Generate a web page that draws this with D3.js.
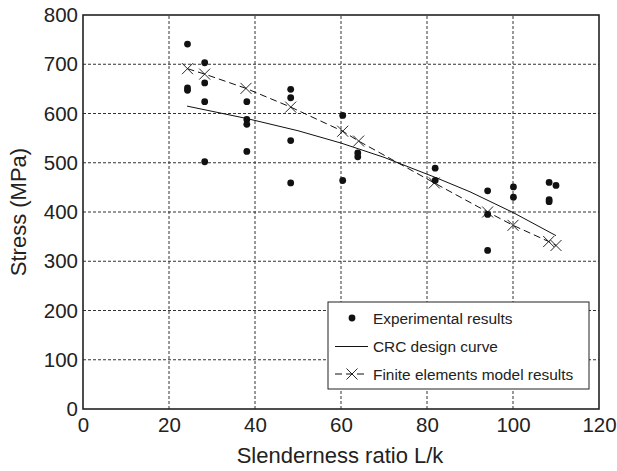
<!DOCTYPE html>
<html>
<head>
<meta charset="utf-8">
<script src="https://cdn.jsdelivr.net/npm/d3@7"></script>
<style>
  body { margin: 0; background: #fff; }
  text { font-family: "Liberation Sans", Arial, sans-serif; fill: #222; }
</style>
</head>
<body>
<div id="chart"></div>
<script>
// experimental results (L/k, stress MPa)
var expX = [24.3, 24.3, 24.3, 28.3, 28.3, 28.3, 28.3, 38.1, 38.1, 38.1, 38.1, 48.3, 48.3, 48.3, 48.3,
            60.4, 60.4, 63.9, 63.9, 81.9, 81.9, 94.1, 94.1, 94.1, 100.1, 100.1, 108.4, 108.4, 108.4, 110];
var expY = [741, 652, 647, 703, 662, 624, 502, 624, 588, 578, 523, 649, 632, 545, 459,
            596, 464, 520, 512, 489, 464, 443, 395, 322, 451, 430, 460, 425, 421, 454];

// CRC design curve
var crcX = [24.2, 38, 50, 60, 70, 82, 90, 100, 110];
var crcY = [615, 590, 565, 540, 511, 470, 441, 399, 352];

// finite elements model results
var feX = [24.3, 28.3, 37.9, 48.3, 60.4, 64.1, 81.7, 94.1, 100, 108.3, 110];
var feY = [691, 680, 651, 613, 564, 544, 459, 400, 373, 340, 332];

var xTicks = [0, 20, 40, 60, 80, 100, 120];
var yTicks = [0, 100, 200, 300, 400, 500, 600, 700, 800];

var legendLabels = ["Experimental results", "CRC design curve", "Finite elements model results"];

var width = 617, height = 471;
var margin = {left: 83, right: 18, top: 15, bottom: 62};

var svg = d3.select("#chart").append("svg")
    .attr("width", width)
    .attr("height", height);

var x = d3.scaleLinear().domain([0, 120]).range([margin.left, width - margin.right]);
var y = d3.scaleLinear().domain([0, 800]).range([height - margin.bottom, margin.top]);

// grid
svg.append("g").selectAll("line")
    .data(xTicks.slice(1, -1))
    .enter().append("line")
    .attr("x1", d => x(d)).attr("x2", d => x(d))
    .attr("y1", y(0)).attr("y2", y(800))
    .attr("stroke", "#333").attr("stroke-width", 1)
    .attr("stroke-dasharray", "3,2");

svg.append("g").selectAll("line")
    .data(yTicks.slice(1, -1))
    .enter().append("line")
    .attr("y1", d => y(d)).attr("y2", d => y(d))
    .attr("x1", x(0)).attr("x2", x(120))
    .attr("stroke", "#333").attr("stroke-width", 1)
    .attr("stroke-dasharray", "3,2");

// frame
svg.append("rect")
    .attr("x", x(0)).attr("y", y(800))
    .attr("width", x(120) - x(0)).attr("height", y(0) - y(800))
    .attr("fill", "none").attr("stroke", "#222").attr("stroke-width", 1.6);

// axes
var xAxis = svg.append("g")
    .attr("transform", "translate(0," + y(0) + ")")
    .call(d3.axisBottom(x).tickValues(xTicks).tickSize(0).tickPadding(8));
var yAxis = svg.append("g")
    .attr("transform", "translate(" + x(0) + ",0)")
    .call(d3.axisLeft(y).tickValues(yTicks).tickSize(0).tickPadding(5));
[xAxis, yAxis].forEach(function(a) {
    a.select(".domain").remove();
    a.selectAll("text").attr("font-size", 20.5).attr("fill", "#222")
        .attr("font-family", "Liberation Sans, Arial, sans-serif");
});

svg.append("text")
    .attr("x", (x(0) + x(120)) / 2 - 1)
    .attr("y", 463)
    .attr("text-anchor", "middle")
    .attr("font-size", 22)
    .text("Slenderness ratio L/k");

svg.append("text")
    .attr("transform", "translate(26," + (y(0) + y(800)) / 2 + ") rotate(-90)")
    .attr("text-anchor", "middle")
    .attr("font-size", 22)
    .text("Stress (MPa)");

// CRC curve
var crc = crcX.map((d, i) => [d, crcY[i]]);
var fe = feX.map((d, i) => [d, feY[i]]);
var line = d3.line().x(d => x(d[0])).y(d => y(d[1]));

svg.append("path")
    .datum(crc)
    .attr("d", line)
    .attr("fill", "none").attr("stroke", "#111").attr("stroke-width", 1);

svg.append("path")
    .datum(fe)
    .attr("d", line)
    .attr("fill", "none").attr("stroke", "#111").attr("stroke-width", 1)
    .attr("stroke-dasharray", "7,4");

var crossPath = function(cx, cy, s) {
    return "M" + (cx - s) + "," + (cy - s) + "L" + (cx + s) + "," + (cy + s) +
        "M" + (cx - s) + "," + (cy + s) + "L" + (cx + s) + "," + (cy - s);
};

svg.append("g").selectAll("path")
    .data(fe)
    .enter().append("path")
    .attr("d", d => crossPath(x(d[0]), y(d[1]), 5.5))
    .attr("stroke", "#111").attr("stroke-width", 0.9).attr("fill", "none");

svg.append("g").selectAll("circle")
    .data(expX.map((d, i) => [d, expY[i]]))
    .enter().append("circle")
    .attr("cx", d => x(d[0])).attr("cy", d => y(d[1]))
    .attr("r", 3.4)
    .attr("fill", "#111");

// legend
var lg = svg.append("g").attr("transform", "translate(328,302)");
lg.append("rect")
    .attr("width", 261).attr("height", 87)
    .attr("fill", "#fff").attr("stroke", "#222").attr("stroke-width", 1);

var rows = lg.selectAll("g.row")
    .data(legendLabels)
    .enter().append("g")
    .attr("class", "row")
    .attr("transform", (d, i) => "translate(0," + [16, 44.5, 72][i] + ")");

rows.append("text")
    .attr("x", 45).attr("y", 5.5)
    .attr("font-size", 15.4)
    .text(d => d);

rows.filter((d, i) => i === 0).append("circle")
    .attr("cx", 24).attr("cy", 0).attr("r", 3.4).attr("fill", "#111");
rows.filter((d, i) => i === 1).append("line")
    .attr("x1", 7).attr("x2", 40).attr("stroke", "#111").attr("stroke-width", 1);
rows.filter((d, i) => i === 2).append("line")
    .attr("x1", 7).attr("x2", 40).attr("stroke", "#111").attr("stroke-width", 1)
    .attr("stroke-dasharray", "7,4");
rows.filter((d, i) => i === 2).append("path")
    .attr("d", crossPath(24, 0, 5.5))
    .attr("stroke", "#111").attr("stroke-width", 0.9).attr("fill", "none");
</script>
</body>
</html>
